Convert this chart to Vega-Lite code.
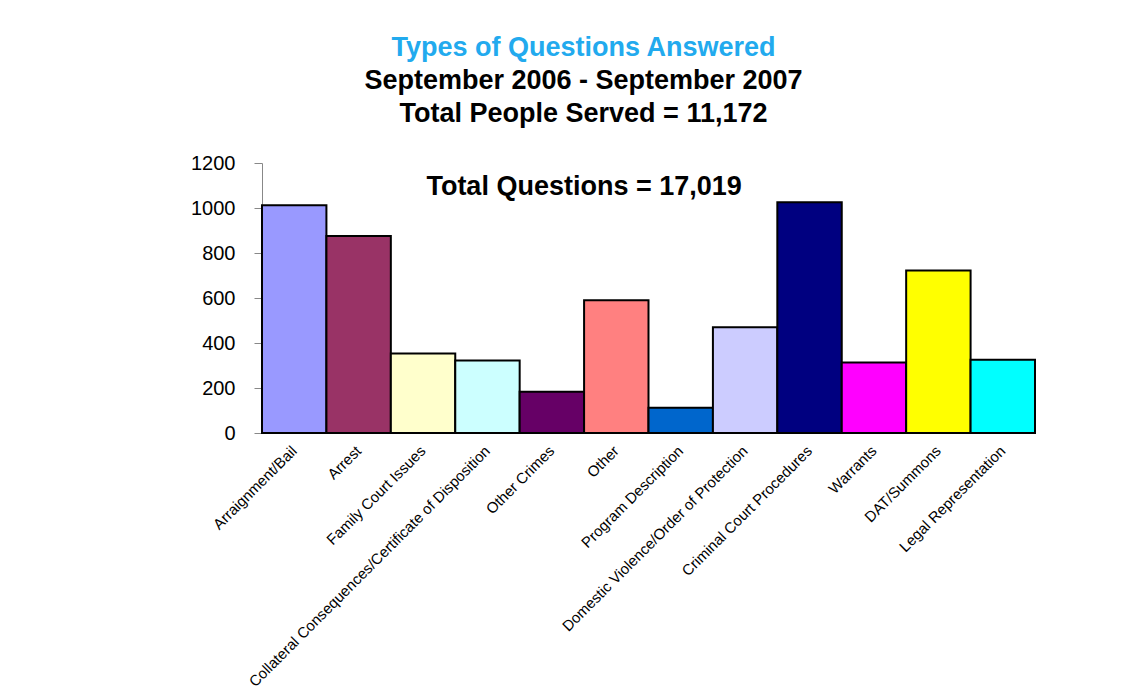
{
  "$schema": "https://vega.github.io/schema/vega-lite/v6.json",
  "autosize": {"type": "none"},
  "width": 773,
  "height": 270,
  "padding": {"left": 262, "top": 163, "right": 110, "bottom": 267},
  "background": "white",
  "title": {
    "text": "Types of Questions Answered",
    "subtitle": ["September 2006 - September 2007", "Total People Served = 11,172"],
    "anchor": "middle",
    "frame": "group",
    "dx": -65,
    "offset": 25,
    "font": "Liberation Sans",
    "fontSize": 27,
    "fontWeight": "bold",
    "color": "#22AAEE",
    "subtitleFont": "Liberation Sans",
    "subtitleFontSize": 27,
    "subtitleFontWeight": "bold",
    "subtitleColor": "black",
    "subtitleLineHeight": 33,
    "subtitlePadding": 6
  },
  "config": {
    "view": {"stroke": null},
    "axis": {"labelFont": "Liberation Sans", "labelColor": "black", "domainColor": "#888888", "tickColor": "#888888"}
  },
  "data": {
    "values": [
      {"category": "Arraignment/Bail", "count": 1012},
      {"category": "Arrest", "count": 876},
      {"category": "Family Court Issues", "count": 353},
      {"category": "Collateral Consequences/Certificate of Disposition", "count": 322},
      {"category": "Other Crimes", "count": 183},
      {"category": "Other", "count": 590},
      {"category": "Program Description", "count": 112},
      {"category": "Domestic Violence/Order of Protection", "count": 470},
      {"category": "Criminal Court Procedures", "count": 1026},
      {"category": "Warrants", "count": 313},
      {"category": "DAT/Summons", "count": 722},
      {"category": "Legal Representation", "count": 326}
    ]
  },
  "layer": [
    {
      "mark": {"type": "bar", "stroke": "black", "strokeWidth": 2},
      "encoding": {
        "x": {
          "field": "category",
          "type": "nominal",
          "sort": null,
          "scale": {"paddingInner": 0, "paddingOuter": 0},
          "axis": {"title": null, "labelAngle": -45, "labelAlign": "right", "labelBaseline": "middle", "labelFontSize": 15, "labelPadding": 15, "ticks": false, "labelLimit": 600}
        },
        "y": {
          "field": "count",
          "type": "quantitative",
          "scale": {"domain": [0, 1200], "nice": false},
          "axis": {"title": null, "values": [0, 200, 400, 600, 800, 1000, 1200], "format": "d", "grid": false, "labelFontSize": 20, "tickSize": 8, "labelPadding": 19}
        },
        "color": {
          "field": "category",
          "type": "nominal",
          "legend": null,
          "scale": {
            "domain": ["Arraignment/Bail", "Arrest", "Family Court Issues", "Collateral Consequences/Certificate of Disposition", "Other Crimes", "Other", "Program Description", "Domestic Violence/Order of Protection", "Criminal Court Procedures", "Warrants", "DAT/Summons", "Legal Representation"],
            "range": ["#9999FF", "#993366", "#FFFFCC", "#CCFFFF", "#660066", "#FF8080", "#0066CC", "#CCCCFF", "#000080", "#FF00FF", "#FFFF00", "#00FFFF"]
          }
        }
      }
    },
    {
      "data": {"values": [{"label": "Total Questions = 17,019"}]},
      "mark": {"type": "text", "font": "Liberation Sans", "fontSize": 27, "fontWeight": "bold", "color": "black", "align": "center", "baseline": "middle"},
      "encoding": {
        "x": {"datum": "Other Crimes", "type": "nominal", "bandPosition": 1},
        "y": {"datum": 1093, "type": "quantitative"},
        "text": {"field": "label"}
      }
    }
  ]
}
